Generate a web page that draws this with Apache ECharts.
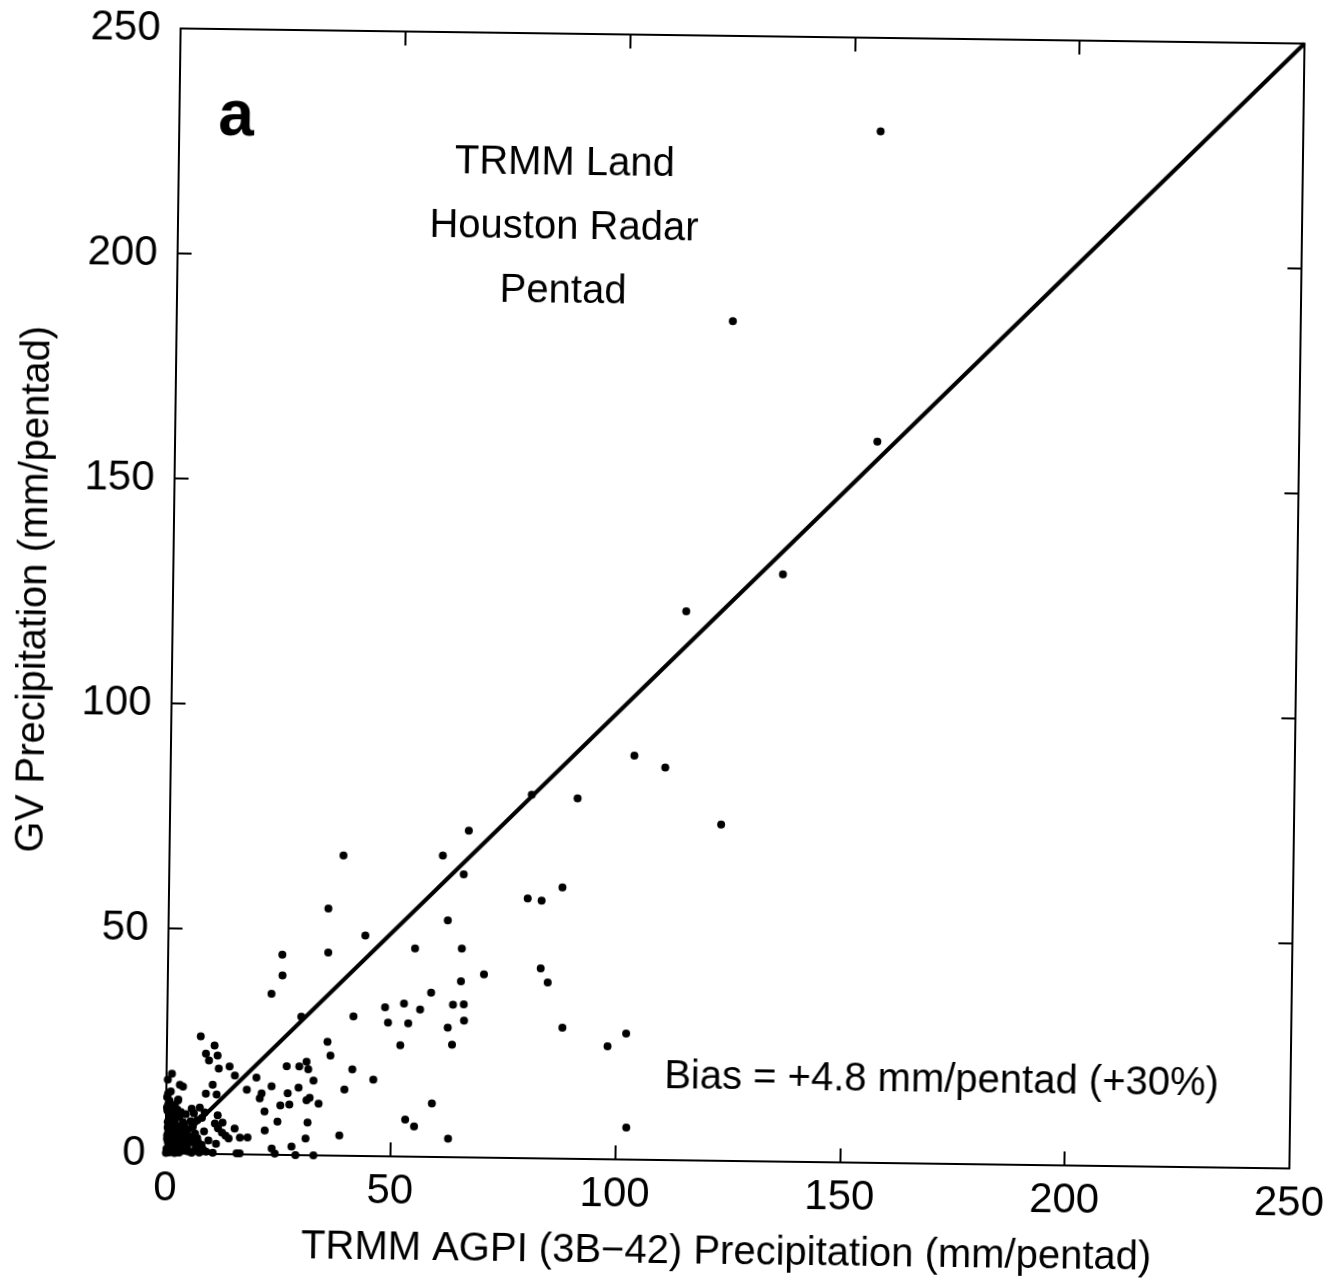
<!DOCTYPE html>
<html><head><meta charset="utf-8">
<script src="https://cdn.jsdelivr.net/npm/echarts@6/dist/echarts.min.js"></script>
<style>
html,body{margin:0;padding:0;background:#fff;overflow:hidden}
#c{width:1335px;height:1278px;transform:rotate(0.77deg);transform-origin:737px 598px;}
</style></head><body><div id="c"></div>
<script>
// TRMM AGPI (3B-42) pentad precipitation (x) vs GV (Houston radar) pentad precipitation (y)
const agpi = [156.0,123.7,156.2,135.6,114.2,103.1,110.0,122.6,80.4,90.6,66.5,38.7,60.8,65.5,79.8,82.9,87.5,35.5,43.8,62.1,
  35.6,54.9,65.3,82.9,84.5,70.3,25.4,25.5,23.1,65.2,87.9,98.0,102.1,102.4,58.6,48.4,52.6,56.2,63.5,65.9,
  41.4,49.1,53.6,62.4,66.0,51.9,63.4,29.8,35.7,36.4,41.3,46.0,39.6,26.7,29.5,31.1,31.5,32.7,23.4,27.0,
  29.4,21.2,20.8,31.9,31.2,33.9,25.4,27.4,21.9,24.8,31.5,22.0,31.1,38.6,28.0,23.6,24.3,28.9,32.9,59.1,
  53.2,55.2,62.8,7.5,10.6,8.7,11.3,9.4,11.6,14.0,15.2,20.0,10.3,8.8,11.2,17.9,15.3,14.0,16.5,18.2,
  11.2,15.8,16.5,10.5,11.5,12.6,10.9,11.6,12.5,13.3,1.2,0.3,3.0,3.7,0.4,2.6,5.7,7.5,8.6,
  0.2,0.5,1.0,0.3,1.5,2.5,0.8,2.0,3.0,0.4,1.2,2.8,4.0,0.6,1.8,3.5,5.0,6.0,7.0,0.3,
  1.5,2.6,4.2,5.5,7.0,0.5,1.8,3.0,4.5,6.0,8.0,0.2,1.2,2.4,3.6,5.0,6.5,0.8,2.0,3.0,
  7.5,9.0,0.1,4.0,5.5,8.0,6.5,8.5,9.5,
  0.7,1.9,3.3,0.2,1.4,2.2,3.8,0.9,2.1,3.2,4.6,0.5,1.6,2.9,0.3,1.1,2.4,3.9,5.2,6.8,
  0.6,1.4,2.3,4.8,5.8,7.2,8.3,1.0,2.7,4.4,6.2,0.4,1.7,0.9,2.0,3.4];
const gv = [229.2,186.6,160.3,130.5,122.0,89.8,87.2,74.7,80.8,80.1,72.6,66.7,67.0,62.9,57.7,57.3,60.3,54.9,49.0,52.6,
  45.1,46.3,46.4,42.2,39.1,40.7,44.5,39.9,35.8,39.1,29.1,25.1,28.0,7.1,36.5,33.1,34.0,32.7,33.9,34.0,
  31.0,29.7,29.6,28.8,30.4,24.7,25.0,30.8,25.3,22.2,19.2,17.0,14.7,19.7,19.7,20.8,19.1,16.6,15.2,13.7,
  15.0,13.6,12.5,12.8,12.2,11.5,11.0,11.2,9.6,7.4,7.3,5.4,3.7,4.5,1.9,1.4,0.3,0.0,0.0,11.9,
  8.2,6.7,4.1,26.1,24.1,22.3,21.9,20.8,19.0,19.5,17.5,17.1,15.4,13.4,13.2,14.4,5.7,3.5,3.7,3.8,
  2.3,0.2,0.2,0.3,8.6,7.0,6.8,5.7,4.8,4.1,17.7,16.4,15.3,14.9,13.3,11.8,10.0,10.3,9.2,
  12.5,11.0,10.5,9.5,9.0,9.8,8.0,7.5,8.2,7.0,6.3,6.0,6.5,5.2,5.0,4.8,5.5,6.0,7.5,4.0,
  3.8,3.5,3.2,3.8,3.5,2.5,2.2,2.0,1.8,2.5,2.0,1.0,0.8,1.2,0.6,0.5,0.8,0.2,0.1,0.2,
  0.3,0.5,0.1,4.0,7.2,8.0,4.5,5.0,3.0,
  11.8,10.8,9.2,10.2,8.6,8.8,7.0,6.6,6.4,5.6,5.2,4.5,4.2,4.2,3.2,2.9,2.8,2.6,2.9,1.5,
  1.6,1.7,0.5,1.2,0.2,2.6,1.0,13.8,12.0,8.8,9.0,5.8,6.9,3.0,0.3,1.4];
const oneToOne = [0, 250];
const tickValues = [0, 50, 100, 150, 200, 250];
const xTitle = 'TRMM AGPI (3B\u221242) Precipitation (mm/pentad)';
const yTitle = 'GV Precipitation (mm/pentad)';
const panelLabel = 'a';
const infoLines = ['TRMM Land', 'Houston Radar', 'Pentad'];
const biasText = 'Bias = +4.8 mm/pentad (+30%)';

const points = agpi.map((x, i) => [x, gv[i]]);
const FONT = "'Liberation Sans', Arial, Helvetica, sans-serif";
const axMin = tickValues[0], axMax = tickValues[tickValues.length - 1];
const axInt = tickValues[1] - tickValues[0];

function axis(pos, showLabel, name, nameGap, margin) {
  return {
    type: 'value', position: pos, min: axMin, max: axMax, interval: axInt,
    splitLine: { show: false },
    axisLine: { show: true, onZero: false, lineStyle: { color: '#000', width: 2 } },
    axisTick: { show: true, inside: true, length: 14, lineStyle: { color: '#000', width: 2 } },
    axisLabel: { show: showLabel, color: '#000', fontSize: 42, fontFamily: FONT, margin: margin || 14 },
    name: name, nameLocation: 'middle', nameGap: nameGap,
    nameTextStyle: { color: '#000', fontSize: 40, fontFamily: FONT }
  };
}

const chart = echarts.init(document.getElementById('c'), null, { renderer: 'canvas' });
const graphics = [
  { type: 'text', left: 212, top: 92, style: { text: panelLabel, fill: '#000', font: 'bold 64px ' + FONT } }
];
infoLines.forEach((t, i) => {
  graphics.push({ type: 'text', x: 559, y: 166 + i * 64,
    style: { text: t, fill: '#000', font: '40px ' + FONT, textAlign: 'center', textVerticalAlign: 'middle' } });
});
graphics.push({ type: 'text', x: 948, y: 1078,
  style: { text: biasText, fill: '#000', font: '40px ' + FONT, textAlign: 'center', textVerticalAlign: 'middle' } });

chart.setOption({
  backgroundColor: '#fff',
  animation: false,
  grid: { left: 173, top: 36, width: 1128, height: 1125, containLabel: false },
  xAxis: [axis('bottom', true, xTitle, 72, 14), axis('top', false, '', 0)],
  yAxis: [Object.assign(axis('left', true, yTitle, 118, 20), { nameRotate: 90 }), axis('right', false, '', 0)],
  graphic: graphics,
  series: [
    { type: 'line', data: [[oneToOne[0], oneToOne[0]], [oneToOne[1], oneToOne[1]]], symbol: 'none',
      lineStyle: { color: '#000', width: 4 }, z: 2 },
    { type: 'scatter', data: points, symbol: 'circle', symbolSize: 8,
      itemStyle: { color: '#000', opacity: 1 }, z: 3 }
  ]
});
</script></body></html>
